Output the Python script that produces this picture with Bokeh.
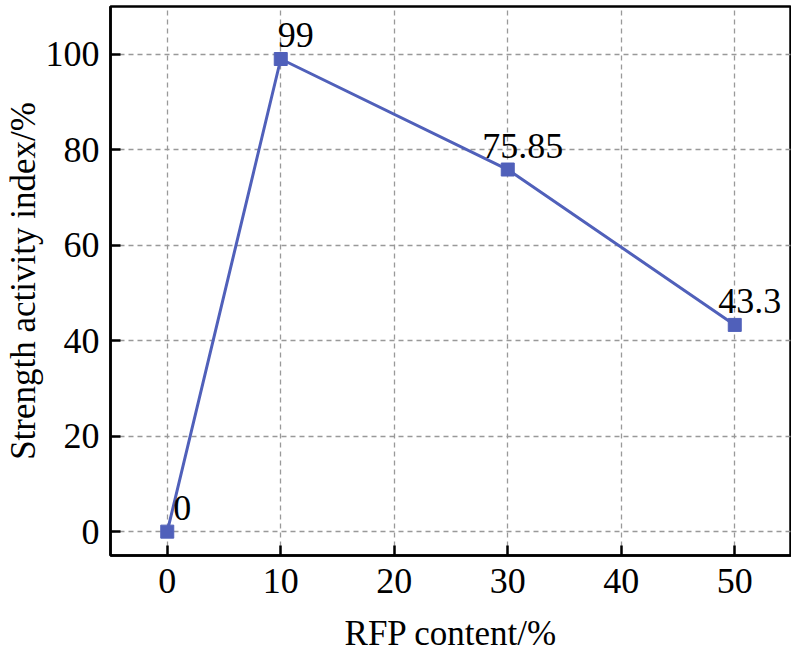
from bokeh.plotting import figure
from bokeh.models import ColumnDataSource, Range1d, FixedTicker
from bokeh.core.properties import value
from bokeh.embed import file_html
from bokeh.resources import INLINE

rfp_content = [0, 10, 30, 50]
strength_index = [0, 99, 75.85, 43.3]
point_labels = ["0", "99", "75.85", "43.3"]
x_ticks = [0, 10, 20, 30, 40, 50]
y_ticks = [0, 20, 40, 60, 80, 100]

FONT = "Liberation Serif"
COLOR = "#5060BA"

src = ColumnDataSource(dict(x=rfp_content, y=strength_index, lab=point_labels))

p = figure(frame_width=681, frame_height=549, output_backend="svg", toolbar_location=None,
           x_range=Range1d(-5, 55), y_range=Range1d(-5, 110),
           min_border_left=103, min_border_right=0, min_border_top=6, min_border_bottom=88)

p.line("x", "y", source=src, line_color=COLOR, line_width=3)
p.scatter("x", "y", source=src, marker="square", size=13, fill_color=COLOR, line_color=COLOR)
p.text("x", "y", text="lab", source=src, text_font=value(FONT), text_font_size="36px",
       text_align="center", text_baseline="alphabetic", x_offset=15, y_offset=-24,
       text_color="black")

for ax, ticks in ((p.xaxis, x_ticks), (p.yaxis, y_ticks)):
    ax.ticker = FixedTicker(ticks=ticks)
    ax.major_label_text_font = FONT
    ax.major_label_text_font_size = "36px"
    ax.major_label_text_color = "black"
    ax.axis_label_text_font = FONT
    ax.axis_label_text_font_size = "35px"
    ax.axis_label_text_font_style = "normal"
    ax.axis_label_text_color = "black"
    ax.major_tick_in = 10
    ax.major_tick_out = 0
    ax.major_tick_line_width = 2.5
    ax.major_tick_line_color = "black"
    ax.minor_tick_line_color = None
    ax.axis_line_width = 2.5
    ax.axis_line_color = "black"

p.xaxis.axis_label = "RFP content/%"
p.yaxis.axis_label = "Strength activity index/%"
p.xaxis.major_label_standoff = 13
p.yaxis.major_label_standoff = 11
p.xaxis.axis_label_standoff = 18
p.yaxis.axis_label_standoff = 0

p.outline_line_color = "black"
p.outline_line_width = 2.5
p.outline_line_alpha = 1

for g in (p.xgrid, p.ygrid):
    g.grid_line_color = "#999999"
    g.grid_line_dash = "5 4"
    g.grid_line_width = 1.3

open("out.html", "w").write(file_html(p, INLINE))
